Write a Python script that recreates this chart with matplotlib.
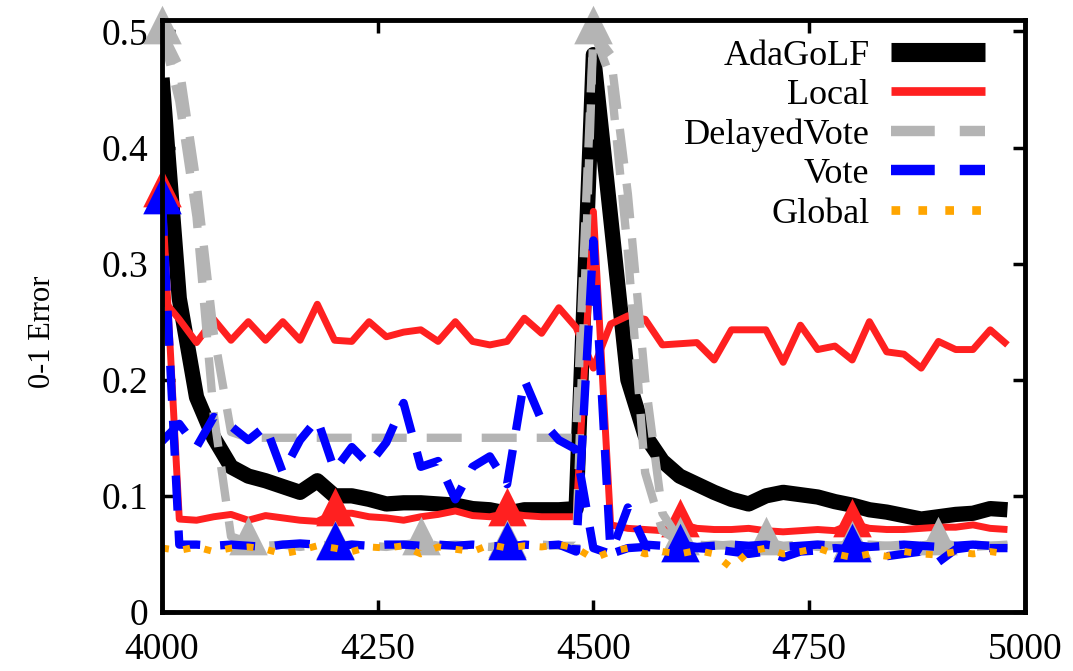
import numpy as np
import matplotlib
matplotlib.use("Agg")
import matplotlib.pyplot as plt
from matplotlib.ticker import FuncFormatter


# sample positions (one point every 20 examples)
STEPS = np.arange(4000, 5000, 20)

ADAGOLF = [0.460, 0.270, 0.185, 0.150, 0.125, 0.117, 0.113, 0.108, 0.103, 0.113,
           0.100, 0.100, 0.097, 0.093, 0.094, 0.094, 0.093, 0.092, 0.089, 0.088,
           0.085, 0.088, 0.088, 0.088, 0.089, 0.480, 0.340, 0.200, 0.152, 0.130,
           0.117, 0.110, 0.103, 0.097, 0.093, 0.100, 0.103, 0.101, 0.099, 0.095,
           0.092, 0.088, 0.086, 0.083, 0.080, 0.082, 0.084, 0.085, 0.089, 0.088]

# Local: marked run and unmarked run
LOCAL_A = [0.360, 0.080, 0.079, 0.082, 0.084, 0.079, 0.083, 0.081, 0.079, 0.078,
           0.085, 0.085, 0.082, 0.081, 0.079, 0.082, 0.084, 0.087, 0.083, 0.082,
           0.085, 0.083, 0.082, 0.082, 0.082, 0.345, 0.075, 0.072, 0.071, 0.070,
           0.076, 0.072, 0.071, 0.071, 0.072, 0.070, 0.069, 0.070, 0.071, 0.070,
           0.076, 0.072, 0.071, 0.071, 0.072, 0.073, 0.073, 0.075, 0.072, 0.071]
LOCAL_B = [0.270, 0.252, 0.232, 0.252, 0.234, 0.250, 0.234, 0.250, 0.234, 0.265,
           0.234, 0.233, 0.250, 0.237, 0.241, 0.243, 0.233, 0.250, 0.233, 0.230,
           0.233, 0.253, 0.240, 0.262, 0.245, 0.210, 0.248, 0.255, 0.252, 0.230,
           0.231, 0.232, 0.217, 0.243, 0.243, 0.243, 0.215, 0.247, 0.226, 0.229,
           0.217, 0.250, 0.224, 0.222, 0.210, 0.233, 0.226, 0.226, 0.243, 0.230]

DELAYED_A = [0.500, 0.440, 0.340, 0.170, 0.065, 0.060, 0.057, 0.058, 0.056, 0.058,
             0.057, 0.058, 0.057, 0.056, 0.058, 0.060, 0.057, 0.058, 0.057, 0.056,
             0.058, 0.057, 0.058, 0.057, 0.057, 0.500, 0.460, 0.310, 0.120, 0.070,
             0.060, 0.057, 0.058, 0.057, 0.056, 0.060, 0.057, 0.058, 0.056, 0.057,
             0.057, 0.058, 0.057, 0.056, 0.057, 0.060, 0.057, 0.056, 0.057, 0.058]
DELAYED_B = [0.500, 0.470, 0.370, 0.240, 0.155, 0.150, 0.150, 0.150, 0.150, 0.150,
             0.150, 0.150, 0.150, 0.150, 0.150, 0.150, 0.150, 0.150, 0.150, 0.150,
             0.150, 0.150, 0.150, 0.150, 0.150, 0.500, 0.480, 0.360, 0.200, 0.085,
             0.062, 0.058, 0.057, 0.058, 0.057, 0.058, 0.056, 0.057, 0.058, 0.057,
             0.058, 0.056, 0.057, 0.058, 0.057, 0.056, 0.057, 0.058, 0.057, 0.057]

VOTE_A = [0.354, 0.058, 0.058, 0.057, 0.058, 0.057, 0.056, 0.058, 0.059, 0.058,
          0.056, 0.058, 0.057, 0.058, 0.058, 0.057, 0.058, 0.057, 0.058, 0.057,
          0.056, 0.058, 0.057, 0.058, 0.052, 0.320, 0.050, 0.055, 0.056, 0.055,
          0.054, 0.055, 0.054, 0.052, 0.050, 0.052, 0.047, 0.052, 0.053, 0.055,
          0.054, 0.050, 0.048, 0.050, 0.052, 0.043, 0.054, 0.056, 0.055, 0.055]
VOTE_B = [0.147, 0.162, 0.142, 0.168, 0.160, 0.148, 0.160, 0.120, 0.148, 0.166,
          0.122, 0.142, 0.127, 0.146, 0.180, 0.125, 0.130, 0.097, 0.125, 0.134,
          0.110, 0.200, 0.165, 0.148, 0.140, 0.055, 0.050, 0.090, 0.058, 0.057,
          0.058, 0.056, 0.057, 0.058, 0.057, 0.058, 0.056, 0.057, 0.058, 0.057,
          0.058, 0.056, 0.057, 0.058, 0.057, 0.056, 0.057, 0.058, 0.057, 0.057]

GLOBAL = [0.055, 0.053, 0.056, 0.052, 0.055, 0.056, 0.054, 0.050, 0.053, 0.057,
          0.055, 0.052, 0.056, 0.055, 0.057, 0.050, 0.056, 0.054, 0.052, 0.058,
          0.055, 0.057, 0.056, 0.058, 0.055, 0.046, 0.052, 0.055, 0.050, 0.052,
          0.050, 0.053, 0.050, 0.038, 0.052, 0.055, 0.050, 0.052, 0.055, 0.050,
          0.047, 0.050, 0.048, 0.052, 0.050, 0.049, 0.052, 0.050, 0.052, 0.050]

X_TICKS = [4000, 4250, 4500, 4750, 5000]
Y_TICKS = [0, 0.1, 0.2, 0.3, 0.4, 0.5]

RED = "#ff2020"
GRAY = "#b4b4b4"
BLUE = "#0000ff"
ORANGE = "#ffa500"
DASH = (4.2, 2.4)
DOT = (1.0, 2.1)

# gnuplot style triangle, centred on its centroid
TRI = np.array([(0, 2 / 3), (-0.5, -1 / 3), (0.5, -1 / 3), (0, 2 / 3)])
TRI_SIZE = 37

plt.rcParams["font.family"] = ["Liberation Serif", "DejaVu Serif"]

fig = plt.figure(figsize=(10.73, 6.71), dpi=100)
ax = fig.add_axes([0.151, 0.088, 0.804, 0.8825])


def markers(y, every, color):
    ax.plot(STEPS, y, linestyle="none", marker=TRI, markevery=every,
            ms=TRI_SIZE, mfc=color, mec=color, mew=0, clip_on=False)


ax.plot(STEPS, ADAGOLF, color="black", lw=11, solid_joinstyle="round",
        solid_capstyle="butt", label="AdaGoLF")

ax.plot(STEPS, LOCAL_B, color=RED, lw=5, solid_capstyle="butt", label="_nolegend_")
ax.plot(STEPS, LOCAL_A, color=RED, lw=5, solid_capstyle="butt", label="Local")
markers(LOCAL_A, 10, RED)

ax.plot(STEPS, DELAYED_B, color=GRAY, lw=6, dashes=DASH, dash_capstyle="butt", label="_nolegend_")
ax.plot(STEPS, DELAYED_A, color=GRAY, lw=6, dashes=DASH, dash_capstyle="butt", label="DelayedVote")
markers(DELAYED_A, 5, GRAY)

ax.plot(STEPS, VOTE_B, color=BLUE, lw=6, dashes=DASH, dash_capstyle="butt", label="_nolegend_")
ax.plot(STEPS, VOTE_A, color=BLUE, lw=6, dashes=DASH, dash_capstyle="butt", label="Vote")
markers(VOTE_A, 10, BLUE)

ax.plot(STEPS, GLOBAL, color=ORANGE, lw=5, dashes=DOT, dash_capstyle="butt", label="Global")

ax.set_xlim(4000, 5000)
ax.set_ylim(0, 0.51)
ax.set_xticks(X_TICKS)
ax.set_yticks(Y_TICKS)
ax.yaxis.set_major_formatter(FuncFormatter(lambda v, _: f"{v:g}"))
ax.tick_params(direction="in", length=9, width=2.5, top=True, right=True, labelsize=27)
ax.tick_params(axis="x", pad=15)
ax.tick_params(axis="y", pad=10)
for spine in ax.spines.values():
    spine.set_linewidth(3.5)

ax.set_ylabel("0-1 Error", fontsize=22)
ax.yaxis.set_label_coords(-0.122, 0.473)

leg = ax.legend(loc="upper right", bbox_to_anchor=(0.954, 0.967), frameon=False,
                markerfirst=False, fontsize=26, handlelength=2.6, handletextpad=0.6,
                labelspacing=0.17, borderpad=0, borderaxespad=0)
for handle in leg.get_lines():
    handle.set_linewidth(handle.get_linewidth() * 1.25)

fig.savefig("out.png", dpi=100)
